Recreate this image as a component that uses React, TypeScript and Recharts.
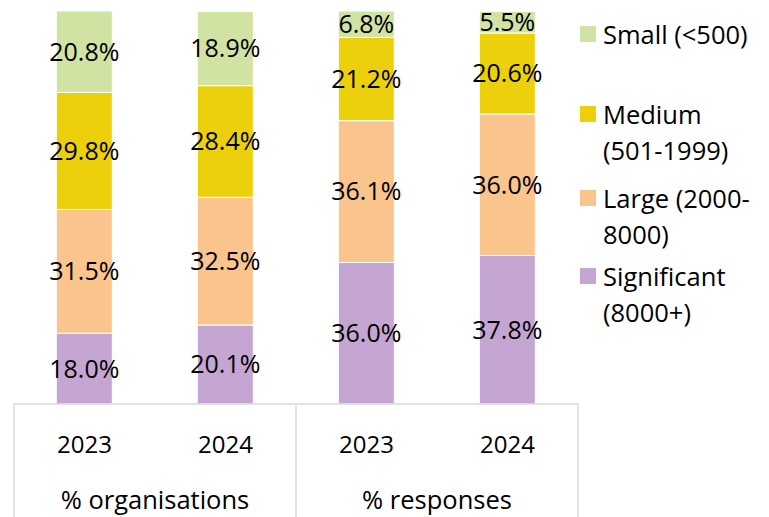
import { BarChart, Bar, XAxis, YAxis, LabelList } from "recharts";

const years = ["2023", "2024", "2023", "2024"];
const groups = ["% organisations", "% organisations", "% responses", "% responses"];
const small = [20.8, 18.9, 6.8, 5.5];
const medium = [29.8, 28.4, 21.2, 20.6];
const large = [31.5, 32.5, 36.1, 36.0];
const significant = [18.0, 20.1, 36.0, 37.8];

const series = [
  { key: "significant", name: "Significant (8000+)", lines: ["Significant", "(8000+)"], color: "#C5A5D1" },
  { key: "large", name: "Large (2000-8000)", lines: ["Large (2000-", "8000)"], color: "#FAC48D" },
  { key: "medium", name: "Medium (501-1999)", lines: ["Medium", "(501-1999)"], color: "#ECD00B" },
  { key: "small", name: "Small (<500)", lines: ["Small (<500)"], color: "#D0E3A3" },
];

const data = years.map((year, i) => ({
  year,
  group: groups[i],
  small: small[i],
  medium: medium[i],
  large: large[i],
  significant: significant[i],
}));

const W = 769;
const H = 517;
const LEFT = 14;
const RIGHT = 578;
const TOP = 11;
const AXIS_Y = 404;
const HALF = (RIGHT - LEFT) / years.length / 2;
const FONT = "'Open Sans', sans-serif";

const Tick = (props: any) => {
  const { x, index, payload } = props;
  const lines: number[] = [];
  if (index === 0) lines.push(x - HALF);
  if (index === 1 || index === 3) lines.push(x + HALF);
  return (
    <g>
      <text x={x} y={443} textAnchor="middle" dominantBaseline="central" fontSize={24} fill="#000" fontFamily={FONT}>
        {payload.value}
      </text>
      {index % 2 === 0 && (
        <text x={x + HALF} y={499} textAnchor="middle" dominantBaseline="central" fontSize={25.5} fill="#000" fontFamily={FONT}>
          {groups[index]}
        </text>
      )}
      {lines.map((lx) => (
        <line key={lx} x1={lx} x2={lx} y1={AXIS_Y} y2={H} stroke="#d9d9d9" strokeWidth={1.5} />
      ))}
    </g>
  );
};

const legendTops = [34, 114, 198, 276];

export default function App() {
  const legendItems = [...series].reverse();
  return (
    <div style={{ position: "absolute", left: 0, top: 0, width: W, height: H, background: "#fff", fontFamily: FONT }}>
      <BarChart
        width={W}
        height={H}
        data={data}
        margin={{ top: TOP, left: LEFT, right: W - RIGHT, bottom: 0 }}
        barCategoryGap="30%"
      >
        <XAxis
          dataKey="year"
          height={H - AXIS_Y}
          axisLine={{ stroke: "#d9d9d9", strokeWidth: 1.5 }}
          tickLine={false}
          interval={0}
          tick={<Tick />}
        />
        <YAxis hide domain={[0, 100]} allowDataOverflow />
        {series.map((s) => (
          <Bar key={s.key} dataKey={s.key} name={s.name} stackId="a" fill={s.color} stroke="#fff" strokeWidth={1} isAnimationActive={false}>
            <LabelList
              dataKey={s.key}
              position="center"
              fill="#000"
              fontSize={25}
              fontFamily={FONT}
              formatter={(v: any) => `${Number(v).toFixed(1)}%`}
            />
          </Bar>
        ))}
      </BarChart>
      {legendItems.map((s, i) => (
        <div key={s.key} style={{ position: "absolute", left: 580, top: legendTops[i] - 18 }}>
          <div style={{ position: "absolute", left: 0, top: 10, width: 16, height: 16, background: s.color }} />
          <div style={{ position: "absolute", left: 23, top: 0, fontSize: 25.5, lineHeight: "36px", whiteSpace: "nowrap", color: "#000" }}>
            {s.lines.map((l) => (
              <div key={l}>{l}</div>
            ))}
          </div>
        </div>
      ))}
    </div>
  );
}
